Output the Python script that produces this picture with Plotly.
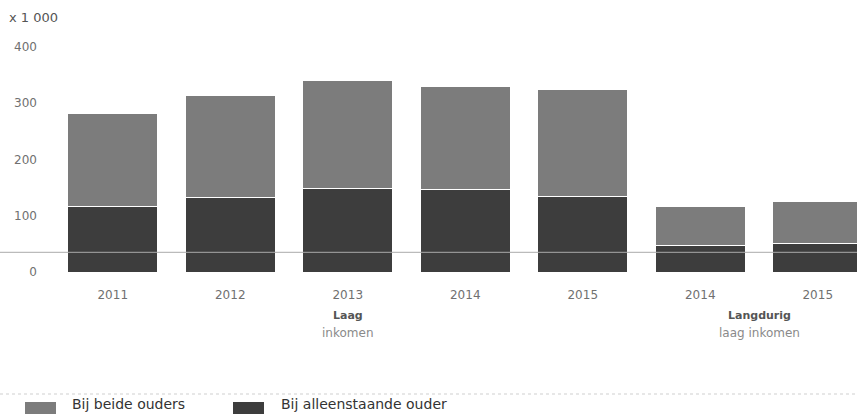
import plotly.graph_objects as go

# Kinderen in huishoudens met (langdurig) laag inkomen, x 1 000
years = ["2011", "2012", "2013", "2014", "2015", "2014", "2015"]
groups = [("Laag", "inkomen", [0, 1, 2, 3, 4]),
          ("Langdurig", "laag inkomen", [5, 6])]
alleenstaand = [116, 133, 149, 147, 135, 47, 51]
beide = [165, 181, 191, 183, 190, 69, 75]
reference_level = 35

dark = "#3d3d3d"
light = "#7c7c7c"
font = "DejaVu Sans"

W, H = 857, 414
left_px, top_px, bottom_px = 54, 30, 272
plot_h = bottom_px - top_px
step_px = 117.5

x = list(range(len(years)))

fig = go.Figure()
fig.add_trace(go.Bar(x=x, y=alleenstaand, name="Bij alleenstaande ouder",
                     marker=dict(color=dark, line=dict(color="white", width=1)),
                     width=0.77))
fig.add_trace(go.Bar(x=x, y=beide, name="Bij beide ouders",
                     marker=dict(color=light, line=dict(color="white", width=1)),
                     width=0.77))

x_max = -0.5 + (W - left_px) / step_px
y_max = 400 * plot_h / 225

fig.update_layout(
    width=W, height=H,
    barmode="stack",
    showlegend=False,
    plot_bgcolor="white", paper_bgcolor="white",
    margin=dict(l=0, r=0, t=top_px, b=H - bottom_px),
    font=dict(family=font, size=12, color="#666"),
    xaxis=dict(domain=[left_px / W, 1], range=[-0.5, x_max],
               tickvals=x, ticktext=years, showgrid=False, zeroline=False,
               showline=False, ticks="", ticklabelstandoff=14,
               tickfont=dict(size=12, color="#707070"), automargin=False),
    yaxis=dict(range=[0, y_max], tickvals=[0, 100, 200, 300, 400],
               showgrid=False, zeroline=False, showline=False, ticks="",
               ticklabelstandoff=16, tickfont=dict(size=12, color="#707070"),
               automargin=False),
)

# horizontal reference line across the full width
fig.add_shape(type="line", xref="paper", yref="y", x0=0, x1=1,
              y0=reference_level, y1=reference_level,
              line=dict(color="#ababab", width=1), layer="above")

# group labels under the year ticks
for bold, sub, idx in groups:
    cx = sum(idx) / len(idx)
    fig.add_annotation(x=cx, xref="x", y=0, yref="paper", yanchor="middle",
                       yshift=-43, text="<b>" + bold + "</b>", showarrow=False,
                       font=dict(size=11, color="#555"))
    fig.add_annotation(x=cx, xref="x", y=0, yref="paper", yanchor="middle",
                       yshift=-61, text=sub, showarrow=False,
                       font=dict(size=12, color="#8a8a8a"))

# unit label
fig.add_annotation(x=7 / W, xref="paper", xanchor="left",
                   y=(bottom_px - 18) / plot_h, yref="paper", yanchor="middle",
                   text="x 1 000", showarrow=False,
                   font=dict(size=13, color="#555"))

# separator above the legend
sep_y = (bottom_px - 394) / plot_h
fig.add_shape(type="line", xref="paper", yref="paper", x0=0, x1=1,
              y0=sep_y, y1=sep_y, line=dict(color="#cfcfcf", width=1, dash="dot"))

# legend drawn along the bottom
legend_items = [("Bij beide ouders", light, 25, 70),
                ("Bij alleenstaande ouder", dark, 233, 279)]
for label, color, sx, tx in legend_items:
    fig.add_shape(type="rect", xref="paper", yref="paper",
                  x0=sx / W, x1=(sx + 31) / W,
                  y0=(bottom_px - 414) / plot_h, y1=(bottom_px - 402) / plot_h,
                  fillcolor=color, line=dict(width=0))
    fig.add_annotation(x=tx / W, xref="paper", xanchor="left",
                       y=(bottom_px - 404) / plot_h, yref="paper", yanchor="middle",
                       text=label, showarrow=False,
                       font=dict(size=14, color="#333"))

fig.write_html("out.html")
